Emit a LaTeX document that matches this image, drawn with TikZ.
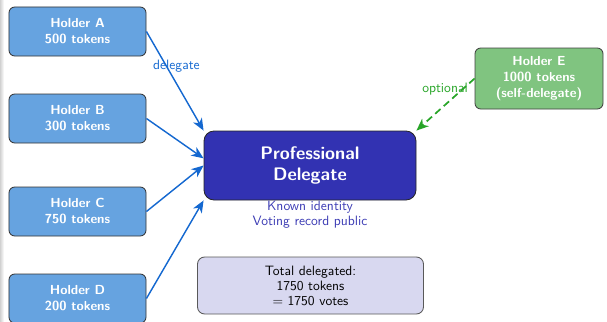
\documentclass[tikz,border=0pt]{standalone}
\usetikzlibrary{arrows.meta,positioning}

\definecolor{holderfill}{RGB}{102,163,224}
\definecolor{arrowblue}{RGB}{20,104,208}
\definecolor{delegatefill}{RGB}{50,50,178}
\definecolor{delegatetext}{RGB}{60,60,180}
\definecolor{selffill}{RGB}{128,196,128}
\definecolor{optgreen}{RGB}{40,165,40}
\definecolor{totalfill}{RGB}{216,216,240}

\tikzset{
  holder/.style={draw=black!80, line width=0.6pt, fill=holderfill, rounded corners=4pt,
    minimum width=95.9pt, minimum height=34.3pt, inner sep=0pt, align=center,
    text=white, font=\sffamily\bfseries\fontsize{9.2}{11.2}\selectfont},
  delegatebox/.style={draw=black!85, line width=0.6pt, fill=delegatefill, rounded corners=7pt,
    minimum width=148.4pt, minimum height=48.3pt, inner sep=0pt, align=center,
    text=white, font=\sffamily\bfseries\fontsize{12.7}{15}\selectfont},
  selfbox/.style={draw=black!75, line width=0.6pt, fill=selffill, rounded corners=4pt,
    minimum width=89.6pt, minimum height=42.7pt, inner sep=0pt, align=center,
    text=white, font=\sffamily\bfseries\fontsize{9.2}{11}\selectfont},
  totalbox/.style={draw=black!65, line width=0.6pt, fill=totalfill, rounded corners=5pt,
    minimum width=158.2pt, minimum height=39.9pt, inner sep=0pt, align=center,
    text=black, font=\sffamily\fontsize{9.5}{10.5}\selectfont},
  note/.style={align=center, text=delegatetext, inner sep=0pt,
    font=\sffamily\fontsize{9.5}{10.5}\selectfont},
  delegation/.style={draw=arrowblue, line width=1pt, -{Stealth[length=8.5pt,width=7pt,inset=2.5pt]}},
  optionalarrow/.style={draw=optgreen, line width=1.2pt, dashed, dash pattern=on 5pt off 3pt,
    -{Stealth[length=8.5pt,width=7pt,inset=2.5pt]}},
  edgelabel/.style={font=\sffamily\fontsize{9.5}{11}\selectfont, inner sep=0pt}
}

\begin{document}
\begin{tikzpicture}[x=0.7pt,y=-0.7pt]
  \useasboundingbox (0,0) rectangle (607,321);

  % faint page-edge shade on the left
  \shade[left color=black!18, right color=white] (0,0) rectangle (4,321);

  % token holders
  \node[holder] (A) at (77.5,31.5)  {Holder A\\500 tokens};
  \node[holder] (B) at (77.5,118.5) {Holder B\\300 tokens};
  \node[holder] (C) at (77.5,211.5) {Holder C\\750 tokens};
  \node[holder] (D) at (77.5,298.5) {Holder D\\200 tokens};

  % the delegate
  \node[delegatebox] (P) at (310,165.5) {Professional\\Delegate};
  \node[note] (info) at (310,214.5) {Known identity\\Voting record public};

  % self-delegating holder
  \node[selfbox] (E) at (539,78.5) {Holder E\\1000 tokens\\(self-delegate)};

  % summary
  \node[totalbox] (T) at (310.5,285.5) {Total delegated:\\1750 tokens\\= 1750 votes};

  % delegation arrows
  \draw[delegation] (A.east) -- (P.north west)
    node[edgelabel, pos=0.35, xshift=7pt, text=arrowblue] {delegate};
  \draw[delegation] (B.east) -- ([yshift=5pt]P.west);
  \draw[delegation] (C.east) -- (P.west);
  \draw[delegation] (D.east) -- (P.south west);

  \draw[optionalarrow] (E.west) -- (P.north east)
    node[edgelabel, pos=0.2, anchor=east, xshift=4pt, text=optgreen] {optional};
\end{tikzpicture}
\end{document}
